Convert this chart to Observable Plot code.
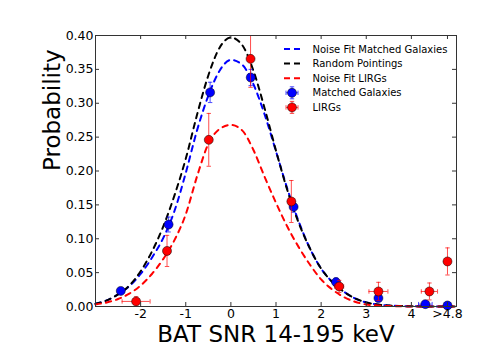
<!DOCTYPE html>
<html>
<head>
<meta charset="utf-8">
<script src="https://cdn.jsdelivr.net/npm/d3@7"></script>
<script src="https://cdn.jsdelivr.net/npm/@observablehq/plot@0.6"></script>
<style>
  body { margin: 0; background: #fff; }
  #wrap { position: relative; width: 480px; height: 360px; font-family: "DejaVu Sans", sans-serif; }
  #legend { position: absolute; left: 0; top: 0; width: 480px; height: 360px; pointer-events: none; }
</style>
</head>
<body>
<div id="wrap"><svg id="legend" width="480" height="360"></svg></div>
<script>
// ---- tick labels ----
const xTicks = [-2, -1, 0, 1, 2, 3, 4, 4.8];
const xTickLabels = ["-2", "-1", "0", "1", "2", "3", "4", ">4.8"];
const yTicks = [0, 0.05, 0.10, 0.15, 0.20, 0.25, 0.30, 0.35, 0.40];

// ---- fitted noise curves ----
const curveX = [-3, -2.75, -2.5, -2.25, -2, -1.75, -1.5, -1.25, -1, -0.75, -0.5, -0.25, 0,
                0.25, 0.5, 0.75, 1, 1.25, 1.5, 1.75, 2, 2.25, 2.5, 2.75, 3, 3.25, 3.5, 3.75, 4, 4.5, 5];
const fitMatched = [0.004, 0.009, 0.018, 0.030, 0.048, 0.072, 0.101, 0.141, 0.197, 0.260, 0.311, 0.348, 0.364,
                    0.357, 0.328, 0.283, 0.229, 0.174, 0.126, 0.086, 0.056, 0.036, 0.022, 0.012, 0.006, 0.003, 0.0015, 0.0007, 0.0003, 0.0001, 0];
const fitRandom = [0.004, 0.009, 0.018, 0.031, 0.052, 0.081, 0.118, 0.164, 0.218, 0.283, 0.341, 0.382, 0.397,
                   0.386, 0.348, 0.292, 0.230, 0.172, 0.124, 0.086, 0.056, 0.036, 0.022, 0.012, 0.006, 0.003, 0.0015, 0.0007, 0.0003, 0.0001, 0];
const fitLirg = [0.003, 0.006, 0.011, 0.019, 0.031, 0.048, 0.070, 0.098, 0.136, 0.192, 0.240, 0.262, 0.268,
                 0.260, 0.231, 0.191, 0.153, 0.118, 0.088, 0.062, 0.040, 0.025, 0.014, 0.007, 0.003, 0.0015, 0.0007, 0.0003, 0.0001, 0, 0];

// ---- measured points ----
const matchedX = [-2.44, -1.38, -0.46, 0.44, 1.39, 2.33, 3.27, 4.31, 4.8];
const matchedY = [0.023, 0.121, 0.316, 0.338, 0.147, 0.036, 0.0124, 0.0035, 0.0015];
const matchedYErr = [0.004, 0.011, 0.015, 0.012, 0.008, 0.006, 0.004, 0.002, 0.001];
const matchedXErr = [0, 0, 0, 0, 0, 0, 0, 0.15, 0];

const lirgX = [-2.10, -1.415, -0.49, 0.436, 1.34, 2.40, 3.27, 4.40, 4.8];
const lirgY = [0.0075, 0.082, 0.246, 0.3655, 0.155, 0.0296, 0.0222, 0.0222, 0.0665];
const lirgYErr = [0.007, 0.023, 0.039, 0.042, 0.031, 0.009, 0.0135, 0.0125, 0.020];
const lirgXErr = [0.31, 0, 0, 0, 0, 0.10, 0.21, 0.18, 0];

// ---- legend ----
const legendLabels = ["Noise Fit Matched Galaxies", "Random Pointings", "Noise Fit LIRGs", "Matched Galaxies", "LIRGs"];
const legendColors = ["#0000ff", "#000000", "#ff0000", "#0000ff", "#ff0000"];
const legendKinds = ["line", "line", "line", "point", "point"];

const BLUE = "#0000ff", RED = "#ff0000";

const curveRows = (ys) => curveX.map((x, i) => ({x, y: ys[i]}));
const pointRows = (xs, ys, ye, xe) => xs.map((x, i) => ({x, y: ys[i], ye: ye[i], xe: xe[i]}));
const matched = pointRows(matchedX, matchedY, matchedYErr, matchedXErr);
const lirgs = pointRows(lirgX, lirgY, lirgYErr, lirgXErr);

const hCap = { draw(ctx, size) { const w = Math.sqrt(size / Math.PI); ctx.moveTo(-w, 0); ctx.lineTo(w, 0); } };
const vCap = { draw(ctx, size) { const w = Math.sqrt(size / Math.PI); ctx.moveTo(0, -w); ctx.lineTo(0, w); } };

function errorMarks(rows, color) {
  const xs = rows.filter(d => d.xe > 0);
  const st = {stroke: color, strokeWidth: 1, strokeOpacity: 0.7, clip: true};
  return [
    Plot.ruleX(rows, {x: "x", y1: d => d.y - d.ye, y2: d => d.y + d.ye, ...st}),
    Plot.dot(rows, {x: "x", y: d => d.y - d.ye, symbol: hCap, r: 2.2, ...st}),
    Plot.dot(rows, {x: "x", y: d => d.y + d.ye, symbol: hCap, r: 2.2, ...st}),
    Plot.ruleY(xs, {y: "y", x1: d => d.x - d.xe, x2: d => d.x + d.xe, ...st}),
    Plot.dot(xs, {x: d => d.x - d.xe, y: "y", symbol: vCap, r: 2.2, ...st}),
    Plot.dot(xs, {x: d => d.x + d.xe, y: "y", symbol: vCap, r: 2.2, ...st})
  ];
}

const dash = "5.5,5";
const tk = 4; // inward tick length in px
const yPerPx = 0.4 / 271;
const xPerPx = 8 / 361;

const chart = Plot.plot({
  width: 480,
  height: 360,
  marginLeft: 95,
  marginRight: 24,
  marginTop: 35,
  marginBottom: 54,
  style: {fontFamily: "DejaVu Sans, sans-serif", fontSize: "12.5px", background: "white", color: "black"},
  x: {domain: [-3, 5]},
  y: {domain: [0, 0.4]},
  marks: [
    Plot.line(curveRows(fitMatched), {x: "x", y: "y", stroke: BLUE, strokeWidth: 2, strokeDasharray: dash, curve: "monotone-x"}),
    Plot.line(curveRows(fitRandom), {x: "x", y: "y", stroke: "#000", strokeWidth: 2, strokeDasharray: dash, curve: "monotone-x"}),
    Plot.line(curveRows(fitLirg), {x: "x", y: "y", stroke: RED, strokeWidth: 2, strokeDasharray: dash, curve: "monotone-x"}),
    ...errorMarks(matched, BLUE),
    Plot.dot(matched, {x: "x", y: "y", r: 4.5, fill: BLUE, stroke: "#000", strokeWidth: 0.5}),
    ...errorMarks(lirgs, RED),
    Plot.dot(lirgs, {x: "x", y: "y", r: 4.5, fill: RED, stroke: "#000", strokeWidth: 0.5}),
    // inward ticks on all four sides
    Plot.ruleX(xTicks, {x: d => d, y1: 0, y2: tk * yPerPx, stroke: "#333"}),
    Plot.ruleX(xTicks, {x: d => d, y1: 0.4 - tk * yPerPx, y2: 0.4, stroke: "#333"}),
    Plot.ruleY(yTicks, {y: d => d, x1: -3, x2: -3 + tk * xPerPx, stroke: "#333"}),
    Plot.ruleY(yTicks, {y: d => d, x1: 5 - tk * xPerPx, x2: 5, stroke: "#333"}),
    Plot.axisX(xTicks, {tickSize: 0, tickPadding: 3, fontSize: 12.5, label: null,
      tickFormat: d => xTickLabels[xTicks.indexOf(d)]}),
    Plot.axisY(yTicks, {tickSize: 0, tickPadding: 2, fontSize: 12.5, label: null,
      tickFormat: d3.format(".2f")}),
    Plot.text(["BAT SNR 14-195 keV"], {frameAnchor: "bottom", dy: 35, fontSize: 23, fill: "black"}),
    Plot.text(["Probability"], {frameAnchor: "left", dx: -43, rotate: -90, fontSize: 23, fill: "black"}),
    Plot.frame({stroke: "#333", strokeWidth: 1})
  ]
});

const wrap = document.getElementById("wrap");
wrap.insertBefore(chart, wrap.firstChild);

// legend overlay (no frame), top-right inside the axes
const lg = d3.select("#legend");
const rowY0 = 49, rowStep = 14.6, handleX0 = 284, handleX1 = 300, textX = 312.5;
legendLabels.forEach((lab, i) => {
  const y = rowY0 + i * rowStep;
  const c = legendColors[i];
  if (legendKinds[i] === "line") {
    lg.append("line").attr("x1", handleX0).attr("x2", handleX1).attr("y1", y).attr("y2", y)
      .attr("stroke", c).attr("stroke-width", 2).attr("stroke-dasharray", "6,4");
  } else {
    const cx = (handleX0 + handleX1) / 2;
    const g = lg.append("g").attr("stroke", c).attr("stroke-opacity", 0.7).attr("stroke-width", 1);
    g.append("line").attr("x1", cx - 6).attr("x2", cx + 6).attr("y1", y).attr("y2", y);
    g.append("line").attr("x1", cx).attr("x2", cx).attr("y1", y - 6).attr("y2", y + 6);
    g.append("line").attr("x1", cx - 2.2).attr("x2", cx + 2.2).attr("y1", y - 6).attr("y2", y - 6);
    g.append("line").attr("x1", cx - 2.2).attr("x2", cx + 2.2).attr("y1", y + 6).attr("y2", y + 6);
    g.append("line").attr("x1", cx - 6).attr("x2", cx - 6).attr("y1", y - 2.2).attr("y2", y + 2.2);
    g.append("line").attr("x1", cx + 6).attr("x2", cx + 6).attr("y1", y - 2.2).attr("y2", y + 2.2);
    lg.append("circle").attr("cx", cx).attr("cy", y).attr("r", 4.5)
      .attr("fill", c).attr("stroke", "#000").attr("stroke-width", 0.5);
  }
  lg.append("text").attr("x", textX).attr("y", y).attr("dy", "0.35em")
    .attr("font-family", "DejaVu Sans, sans-serif").attr("font-size", 10).attr("fill", "black").text(lab);
});
</script>
</body>
</html>
